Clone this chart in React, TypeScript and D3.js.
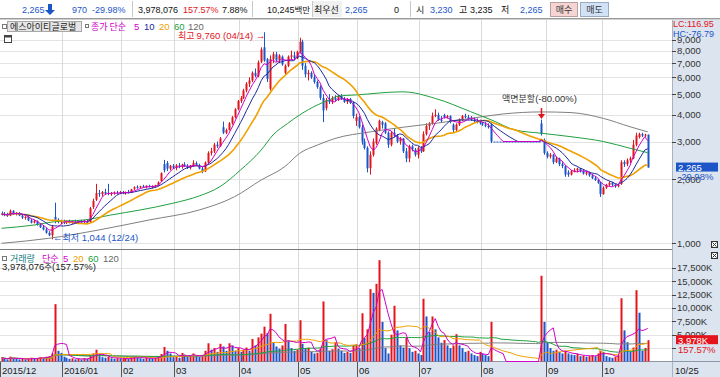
import React from 'react';
import * as d3 from 'd3';

// ---------- categories ----------
const monthLabels = ['2015/12', '2016/01', '02', '03', '04', '05', '06', '07', '08', '09', '10'];
const monthDays = [21, 20, 18, 22, 20, 20, 21, 21, 22, 19, 16];
const lastDateLabel = '10/25';

// ---------- daily OHLC (split-adjusted, KRW) ----------
const opens = [
  1380, 1370, 1360, 1350, 1420, 1380, 1390, 1350, 1320, 1330, 1280, 1250, 1270, 1220, 1190, 1160, 1120, 1090, 1330, 1290, 1260,
  1270, 1250, 1270, 1250, 1260, 1250, 1270, 1260, 1270, 1260, 1480, 1600, 1720, 1700, 1740, 1720, 1700, 1720, 1730, 1720,
  1740, 1720, 1740, 1730, 1800, 1840, 1830, 1850, 1830, 1860, 1840, 1850, 1880, 1960, 2350, 2380, 2240, 2310,
  2260, 2320, 2280, 2340, 2300, 2260, 2310, 2380, 2320, 2240, 2180, 2390, 2650, 2700, 2900, 2850, 3500, 3300, 3400, 3650, 3900, 4250,
  4650, 4800, 5200, 5600, 5800, 6300, 6100, 7100, 8300, 7300, 5300, 7300, 7700, 7200, 7500, 6300, 6800, 7500, 7600, 7400,
  7900, 8800, 6800, 6200, 6300, 6000, 5700, 5400, 4800, 4300, 4700, 4600, 4800, 4700, 4900, 4750, 4600, 4750, 4550, 3750,
  3900, 3500, 3000, 2800, 2250, 2600, 2950, 3400, 3700, 3650, 3300, 2900, 3300, 3200, 3000, 3100, 2700, 2500, 2850, 2750, 2600,
  2800, 2700, 3250, 3550, 3650, 3950, 4000, 3800, 4000, 3900, 3950, 3600, 3400, 3600, 3800, 3950, 3900, 3850, 3800, 3750, 3700,
  3650, 3600, 3550, 3600, 3000, 3000, 3000, 3000, 3000, 3000, 3000, 3000, 3000, 3000, 3000, 3000, 3000, 3000, 3000, 3000, 3650, 3050,
  2650, 2550, 2600, 2400, 2500, 2350, 2300, 2150, 2100, 2180, 2200, 2240, 2180, 2120, 2150, 2080, 2020, 1980, 1920,
  1700, 1820, 1880, 1920, 1880, 1850, 1900, 2400, 2350, 2450, 2500, 2900, 3150, 3250, 3200, 3230,
];
const highs = [
  1410, 1400, 1390, 1440, 1430, 1400, 1400, 1370, 1340, 1340, 1300, 1290, 1280, 1240, 1210, 1180, 1140, 1220, 1550, 1310, 1290,
  1290, 1280, 1290, 1280, 1290, 1280, 1290, 1290, 1290, 1480, 1620, 1900, 1780, 1760, 1800, 1900, 1740, 1750, 1760, 1760,
  1760, 1750, 1780, 1800, 1850, 1870, 1860, 1880, 1870, 1880, 1870, 1880, 1950, 2150, 2460, 2430, 2330, 2350,
  2350, 2380, 2360, 2400, 2350, 2330, 2450, 2420, 2360, 2280, 2420, 2700, 2800, 2950, 3000, 3150, 3720, 3450, 3700, 3950, 4300, 4700,
  4900, 5300, 5700, 6000, 6400, 6600, 7200, 8300, 9760, 7400, 7600, 7900, 7900, 7700, 7600, 6900, 7600, 8000, 7900, 8000,
  9200, 9000, 7000, 6500, 6400, 6200, 5800, 5500, 5000, 4800, 5000, 4900, 4950, 4950, 5000, 4850, 4800, 4800, 4600, 4050,
  3950, 3600, 3100, 2850, 2700, 3100, 3500, 3800, 3750, 3700, 3350, 3350, 3450, 3250, 3150, 3120, 2800, 2900, 2900, 2800, 2850,
  2850, 3350, 3650, 3700, 4100, 4250, 4100, 3950, 4050, 4000, 3980, 3650, 3650, 3850, 4000, 4050, 4000, 3950, 3900, 3850, 3800,
  3700, 3700, 3650, 3650, 3000, 3000, 3000, 3000, 3000, 3000, 3000, 3000, 3000, 3000, 3000, 3000, 3000, 3000, 3000, 3000, 3800, 3100,
  2700, 2650, 2620, 2550, 2520, 2400, 2320, 2200, 2200, 2250, 2260, 2250, 2200, 2180, 2160, 2100, 2050, 2000, 1940,
  1850, 1900, 1950, 1940, 1900, 1900, 2450, 2450, 2500, 2550, 3050, 3300, 3300, 3300, 3260, 3235,
];
const lows = [
  1350, 1340, 1330, 1340, 1360, 1350, 1340, 1300, 1290, 1270, 1240, 1240, 1210, 1180, 1150, 1110, 1080, 1044, 1240, 1240, 1230,
  1230, 1230, 1240, 1230, 1240, 1230, 1240, 1240, 1240, 1250, 1450, 1580, 1650, 1660, 1690, 1680, 1670, 1690, 1700, 1700,
  1700, 1690, 1710, 1720, 1780, 1800, 1800, 1820, 1810, 1830, 1810, 1830, 1860, 1940, 2150, 2180, 2200, 2230,
  2200, 2250, 2240, 2280, 2230, 2220, 2280, 2300, 2220, 2130, 2160, 2370, 2580, 2650, 2800, 2830, 3250, 3250, 3380, 3600, 3850, 4200,
  4550, 4750, 5100, 5400, 5700, 6000, 6000, 7000, 7100, 5700, 5200, 7000, 7100, 7000, 6800, 6200, 6700, 7300, 7200, 7300,
  7800, 6500, 6000, 5800, 5900, 5600, 5300, 4700, 3700, 4200, 4500, 4500, 4650, 4650, 4700, 4550, 4500, 4500, 3850, 3550,
  3450, 2900, 2750, 2150, 2100, 2550, 2900, 3350, 3450, 3250, 2800, 2850, 3150, 2950, 2900, 2650, 2400, 2400, 2700, 2550, 2500,
  2650, 2680, 3200, 3400, 3600, 3900, 3750, 3700, 3850, 3850, 3650, 3300, 3350, 3550, 3750, 3850, 3800, 3750, 3700, 3650, 3600,
  3550, 3500, 3450, 2950, 3000, 3000, 3000, 3000, 3000, 3000, 3000, 3000, 3000, 3000, 3000, 3000, 3000, 3000, 3000, 3000, 3200, 2600,
  2500, 2500, 2350, 2380, 2300, 2250, 2050, 2050, 2080, 2150, 2150, 2150, 2100, 2080, 2050, 2000, 1960, 1900, 1650,
  1690, 1800, 1850, 1850, 1820, 1830, 1880, 2280, 2300, 2380, 2480, 2850, 3100, 3150, 3150, 2265,
];
const closes = [
  1370, 1360, 1350, 1420, 1380, 1390, 1350, 1320, 1330, 1280, 1250, 1270, 1220, 1190, 1160, 1120, 1090, 1200, 1290, 1260, 1270,
  1250, 1270, 1250, 1270, 1250, 1270, 1260, 1280, 1250, 1460, 1580, 1720, 1700, 1740, 1710, 1700, 1720, 1730, 1720, 1740,
  1720, 1740, 1730, 1790, 1830, 1820, 1850, 1830, 1860, 1840, 1850, 1870, 1930, 2130, 2200, 2240, 2310, 2260,
  2320, 2280, 2340, 2300, 2260, 2310, 2380, 2320, 2240, 2180, 2390, 2650, 2700, 2900, 2850, 3100, 3300, 3400, 3650, 3900, 4250, 4650,
  4800, 5200, 5600, 5800, 6300, 6100, 7050, 8100, 7200, 5900, 7300, 7700, 7200, 7600, 6900, 6800, 7500, 7600, 7400, 7900,
  8800, 6800, 6200, 6300, 6000, 5700, 5400, 4800, 4200, 4700, 4600, 4800, 4700, 4900, 4750, 4600, 4750, 4550, 3950, 3900,
  3500, 3000, 2800, 2250, 2600, 3000, 3450, 3750, 3600, 3300, 2900, 3300, 3200, 3000, 3100, 2700, 2500, 2850, 2750, 2600, 2800,
  2700, 3250, 3550, 3650, 3950, 4000, 3800, 3750, 3900, 3950, 3700, 3400, 3600, 3800, 3950, 3900, 3850, 3800, 3750, 3700, 3650,
  3600, 3550, 3500, 3000, 3000, 3000, 3000, 3000, 3000, 3000, 3000, 3000, 3000, 3000, 3000, 3000, 3000, 3000, 3000, 3000, 3250, 2650,
  2550, 2600, 2400, 2500, 2350, 2300, 2100, 2100, 2180, 2200, 2240, 2180, 2120, 2150, 2080, 2020, 1980, 1920, 1700,
  1820, 1880, 1920, 1880, 1850, 1880, 2400, 2350, 2450, 2500, 2900, 3200, 3250, 3200, 3235, 2265,
];
// volume in thousand shares
const volumes = [
  700, 500, 400, 900, 600, 500, 400, 500, 400, 600, 700, 500, 600, 800, 700, 900, 1000, 1500, 10700, 2000, 1600,
  900, 700, 500, 600, 400, 500, 400, 600, 500, 1200, 1500, 2200, 1000, 800, 700, 900, 600, 500, 600, 500,
  500, 600, 500, 800, 900, 700, 600, 500, 700, 600, 500, 700, 1000, 1400, 2700, 2000, 1500, 800,
  900, 700, 1600, 1300, 900, 1000, 1500, 1100, 900, 1000, 2000, 3400, 2200, 2500, 1800, 3300, 2800, 2000, 3400, 3000, 2000, 2500,
  1800, 2200, 2600, 2000, 4200, 3000, 4500, 5200, 6500, 5300, 8900, 3600, 2800, 2400, 3000, 7000, 4000, 2500, 2000, 2200,
  7700, 3300, 2500, 2600, 1800, 1500, 1600, 2400, 11200, 4000, 2000, 2300, 3600, 2400, 2000, 1600, 1800, 1600, 3000, 3200,
  2500, 9000, 4400, 6000, 13500, 12800, 14500, 18900, 7400, 2500, 1500, 5000, 10400, 5800, 3000, 2600, 4400, 2500, 1800, 2000, 1500,
  1200, 11700, 8400, 5500, 8400, 6000, 4500, 3500, 4000, 3000, 2500, 3000, 5100, 3000, 2500, 1800, 2000, 1500, 1200, 1000, 1800,
  1500, 1200, 1000, 7400, 0, 0, 0, 0, 0, 0, 0, 0, 0, 0, 0, 0, 0, 0, 0, 0, 16000, 7400,
  3500, 2500, 2000, 2200, 1800, 1500, 2000, 1500, 1300, 1200, 1400, 1000, 1100, 900, 1000, 1200, 1000, 1500, 2000,
  1800, 1000, 800, 700, 900, 1200, 11800, 5800, 3600, 1800, 2600, 13300, 9100, 2000, 2525, 3978,
];

// MA60 / MA120 (index, value)
const ma60Idx = [0, 11, 18, 28, 37, 47, 58, 67, 74, 81, 88, 92, 97, 101, 107, 111, 114, 120, 136, 147, 159, 166, 174, 183, 193, 204, 213, 219];
const ma60Val = [1176, 1218, 1263, 1286, 1357, 1433, 1540, 1667, 1842, 2206, 2737, 3220, 3650, 3995, 4450, 4700, 4900, 4960, 5130, 4780, 4140, 3790, 3400, 3280, 3160, 3000, 2790, 2660];
const ma120Idx = [0, 16, 33, 50, 67, 79, 88, 96, 101, 107, 113, 125, 136, 147, 159, 170, 183, 193, 204, 213, 219];
const ma120Val = [1000, 1055, 1155, 1286, 1433, 1654, 1980, 2288, 2640, 2886, 3100, 3330, 3500, 3650, 3850, 4040, 4130, 4100, 3850, 3520, 3330];

const priceTicks = [1000, 2000, 3000, 4000, 5000, 6000, 7000, 8000, 9000];
const volGrid = [2500, 5000, 7500, 10000, 12500, 15000, 17500];
const volTickLabels = [5000, 7500, 10000, 12500, 15000, 17500];

const RED = '#e3141c';
const BLUE = '#1c55c8';
const C_MA5 = '#d000c8';
const C_MA10 = '#1c2a9c';
const C_MA20 = '#f0a000';
const C_MA60 = '#20a040';
const C_MA120 = '#808080';
const AXIS_BG = '#dbe4ef';
const NUM = "'Liberation Sans', Arial, sans-serif";
const KR = "'Noto Sans CJK KR', 'Noto Sans', sans-serif";
const FS = 9.5;
const FH = 9;

function sma(arr: number[], n: number) {
  return arr.map((_, i) => {
    const s = Math.max(0, i - n + 1);
    let t = 0;
    for (let k = s; k <= i; k++) t += arr[k];
    return t / (i - s + 1);
  });
}

export default function App() {
  const W = 720, H = 377;
  const N = closes.length;
  const plotR = 672;
  const x = d3.scaleLinear().domain([0, N - 1]).range([1.54, 647.7]);
  const yP = d3.scaleLog().domain([1000, 10000]).range([243.3, 30]);
  const yV = d3.scaleLinear().domain([0, 17500]).range([361.5, 267.7]);

  const starts: number[] = [];
  monthDays.reduce((acc, d) => { starts.push(acc); return acc + d; }, 0);
  const bx = (i: number) => Math.round(x(i - 0.5)) + 0.5;

  const ma5 = sma(closes, 5), ma10 = sma(closes, 10), ma20 = sma(closes, 20);
  const lineP = d3.line<number>().x((_, i) => x(i)).y(v => yP(v));
  const lineS = d3.line<[number, number]>().x(d => x(d[0])).y(d => yP(d[1])).curve(d3.curveMonotoneX);
  const ma60pts = ma60Idx.map((d, i) => [d, ma60Val[i]] as [number, number]);
  const ma120pts = ma120Idx.map((d, i) => [d, ma120Val[i]] as [number, number]);

  const v5 = sma(volumes, 5), v20 = sma(volumes, 20), v60 = sma(volumes, 60), v120 = sma(volumes, 120);
  const lineV = d3.line<number>().x((_, i) => x(i)).y(v => yV(v));

  const fmt = d3.format(',');
  const last = N - 1;

  return (
    <div style={{ position: 'absolute', left: 0, top: 0, width: W, height: H }}>
      <svg width={W} height={H} style={{ display: 'block' }}>
        <defs>
          <clipPath id="cp"><rect x={0} y={20} width={plotR} height={229} /></clipPath>
          <clipPath id="cv"><rect x={0} y={250} width={plotR} height={112} /></clipPath>
        </defs>
        <rect x={0} y={0} width={W} height={H} fill="#ffffff" />

        {/* header bar */}
        <rect x={0} y={0} width={W} height={18} fill="#ffffff" />
        <line x1={0} x2={W} y1={18.5} y2={18.5} stroke="#9a9a9a" />
        <rect x={0} y={19} width={W} height={1} fill="#d0d0d0" />
        {[132, 252, 312, 410].map(v => <line key={v} x1={v + 0.5} x2={v + 0.5} y1={1} y2={17} stroke="#c8c8c8" />)}
        <rect x={313} y={1} width={29} height={16} fill="#f0f0f0" />
        <g fontFamily={NUM} fontSize={FH}>
          <text x={22} y={12.5} fill={BLUE}>2,265</text>
          <path d="M48,4 h4 v6 h3 l-5,5 l-5,-5 h3 z" fill={BLUE} />
          <text x={72} y={12.5} fill={BLUE}>970</text>
          <text x={92} y={12.5} fill={BLUE}>-29.98%</text>
          <text x={138} y={12.5} fill="#111">3,978,076</text>
          <text x={183} y={12.5} fill={RED}>157.57%</text>
          <text x={222} y={12.5} fill="#111">7.88%</text>
          <text x={267} y={12.5} fill="#111">10,245<tspan fontFamily={KR} fontSize={8.5}>백만</tspan></text>
          <text x={314} y={12.5} fill="#111" fontFamily={KR} fontSize={9}>최우선</text>
          <text x={345} y={12.5} fill={BLUE}>2,265</text>
          <text x={394} y={12.5} fill="#111">0</text>
          <text x={416} y={12.5} fill="#111" fontFamily={KR} fontSize={9}>시</text>
          <text x={430} y={12.5} fill={BLUE}>3,230</text>
          <text x={459} y={12.5} fill="#111" fontFamily={KR} fontSize={9}>고</text>
          <text x={470} y={12.5} fill="#111">3,235</text>
          <text x={501} y={12.5} fill="#111" fontFamily={KR} fontSize={9}>저</text>
          <text x={520} y={12.5} fill={BLUE}>2,265</text>
        </g>
        <rect x={550.5} y={2.5} width={27} height={14} fill="#f7d4d4" stroke="#b9a0a0" />
        <text x={564} y={13} textAnchor="middle" fontFamily={KR} fontSize={9} fill="#333">매수</text>
        <rect x={580.5} y={2.5} width={28} height={14} fill="#d2e2f6" stroke="#9aaac0" />
        <text x={594.5} y={13} textAnchor="middle" fontFamily={KR} fontSize={9} fill="#333">매도</text>

        {/* axis backgrounds */}
        <rect x={plotR} y={20} width={W - plotR} height={342} fill={AXIS_BG} />
        <rect x={0} y={362} width={W} height={15} fill={AXIS_BG} />
        <line x1={plotR + 0.5} x2={plotR + 0.5} y1={20} y2={H} stroke="#a8b4c4" />
        <line x1={0} x2={W} y1={361.5} y2={361.5} stroke="#8c98a8" />

        {/* grids */}
        {priceTicks.map(t => (
          <line key={t} x1={0} x2={plotR} y1={Math.round(yP(t)) + 0.5} y2={Math.round(yP(t)) + 0.5} stroke="#e3e3e3" />
        ))}
        {volGrid.map(t => (
          <line key={t} x1={0} x2={plotR} y1={Math.round(yV(t)) + 0.5} y2={Math.round(yV(t)) + 0.5} stroke="#e3e3e3" />
        ))}
        {starts.slice(1).map(s => (
          <line key={s} x1={bx(s)} x2={bx(s)} y1={20} y2={361} stroke="#d9d9d9" />
        ))}
        <line x1={0} x2={plotR} y1={249.5} y2={249.5} stroke="#7a7a7a" />

        {/* candles */}
        <g clipPath="url(#cp)">
          {closes.map((c, i) => {
            const o = opens[i];
            const up = c > o || (c === o && i > 0 && c > closes[i - 1]);
            const col = up ? RED : BLUE;
            const cx = Math.round(x(i));
            const yt = yP(Math.max(o, c)), yb = yP(Math.min(o, c));
            return (
              <g key={i}>
                <line x1={cx + 0.5} x2={cx + 0.5} y1={yP(highs[i])} y2={yP(lows[i])} stroke={col} />
                <rect x={cx - 0.5} y={yt} width={2} height={Math.max(1, yb - yt)} fill={col} />
              </g>
            );
          })}
          <path d={lineS(ma120pts) || ''} fill="none" stroke={C_MA120} strokeWidth={1} />
          <path d={lineS(ma60pts) || ''} fill="none" stroke={C_MA60} strokeWidth={1} />
          <path d={lineP(ma20) || ''} fill="none" stroke={C_MA20} strokeWidth={1.6} />
          <path d={lineP(ma10) || ''} fill="none" stroke={C_MA10} strokeWidth={1} />
          <path d={lineP(ma5) || ''} fill="none" stroke={C_MA5} strokeWidth={1} />
        </g>

        {/* volume */}
        <g clipPath="url(#cv)">
          {volumes.map((v, i) => {
            if (v <= 0) return null;
            const up = i === 0 ? true : v >= volumes[i - 1];
            const cx = Math.round(x(i));
            return <rect key={i} x={cx - 0.5} y={yV(v)} width={2} height={yV(0) - yV(v)} fill={up ? RED : BLUE} />;
          })}
          <path d={lineV(v120) || ''} fill="none" stroke={C_MA120} strokeWidth={1} />
          <path d={lineV(v60) || ''} fill="none" stroke={C_MA60} strokeWidth={1} />
          <path d={lineV(v20) || ''} fill="none" stroke={C_MA20} strokeWidth={1} />
          <path d={lineV(v5) || ''} fill="none" stroke={C_MA5} strokeWidth={1} />
        </g>

        {/* price panel legend */}
        <rect x={2.5} y={24.5} width={4} height={4} fill="none" stroke="#777" />
        <rect x={7.5} y={21.5} width={74} height={10} fill="#e6e6e6" stroke="#a8a8a8" />
        <text x={10} y={30} fontFamily={KR} fontSize={9} fill="#222">에스아이티글로벌</text>
        <rect x={85.5} y={24.5} width={3} height={3} fill="none" stroke="#777" />
        <text x={91} y={30} fontFamily={KR} fontSize={9} fill={C_MA5}>종가 단순</text>
        <g fontFamily={NUM} fontSize={FS}>
          <text x={134} y={30} fill={C_MA5}>5</text>
          <text x={144} y={30} fill={C_MA10}>10</text>
          <text x={159} y={30} fill={C_MA20}>20</text>
          <text x={174} y={30} fill={C_MA60}>60</text>
          <text x={188} y={30} fill="#666">120</text>
        </g>
        <rect x={4.5} y={35.5} width={7} height={7} fill="#fff" stroke="#444" />
        <rect x={4.5} y={35.5} width={7} height={2} fill="#444" />

        {/* annotations */}
        <text x={178} y={39} fontFamily={KR} fontSize={9} fill={RED}>최고 <tspan fontFamily={NUM} fontSize={FS}>9,760 (04/14) →</tspan></text>
        <text x={53} y={241} fontFamily={NUM} fontSize={FS} fill={BLUE}>←<tspan fontFamily={KR} fontSize={9}>최저</tspan> 1,044 (12/24)</text>
        <text x={502} y={102} fontFamily={KR} fontSize={9} fill="#333">액면분할<tspan fontFamily={NUM} fontSize={FS}>(-80.00%)</tspan></text>
        <line x1={x(183)} x2={x(183)} y1={108} y2={115} stroke={RED} strokeWidth={1.5} />
        <path d={`M${x(183) - 3.5},114 h7 l-3.5,5 z`} fill={RED} />

        {/* volume legend */}
        <rect x={2.5} y={256.5} width={4} height={4} fill="none" stroke="#777" />
        <text x={10} y={262} fontFamily={KR} fontSize={9} fill="#138080">거래량</text>
        <text x={42} y={262} fontFamily={KR} fontSize={9} fill={C_MA5}>단순</text>
        <g fontFamily={NUM} fontSize={FS}>
          <text x={63} y={262} fill={C_MA5}>5</text>
          <text x={73} y={262} fill={C_MA20}>20</text>
          <text x={88} y={262} fill={C_MA60}>60</text>
          <text x={103} y={262} fill="#666">120</text>
        </g>
        <text x={2} y={270} fontFamily={NUM} fontSize={FS} fill="#222">3,978,076<tspan fontFamily={KR} fontSize={8.5}>주</tspan>(157.57%)</text>

        {/* close icons */}
        <rect x={711.5} y={241.5} width={6} height={6} fill="#fff" stroke="#333" />
        <path d="M712.5,242.5 L716.5,246.5 M716.5,242.5 L712.5,246.5" stroke="#333" />
        <rect x={711.5} y={252.5} width={6} height={6} fill="#fff" stroke="#333" />
        <path d="M712.5,253.5 L716.5,257.5 M716.5,253.5 L712.5,257.5" stroke="#333" />

        {/* price axis */}
        {priceTicks.map(t => (
          <g key={t}>
            <line x1={plotR} x2={plotR + 4} y1={Math.round(yP(t)) + 0.5} y2={Math.round(yP(t)) + 0.5} stroke="#444" />
            <text x={plotR + 5} y={yP(t) + 3.5} fontFamily={NUM} fontSize={FS} fill="#333">{fmt(t)}</text>
          </g>
        ))}
        <text x={673} y={27} fontFamily={NUM} fontSize={9} fill={RED}>LC:116.95</text>
        <text x={673} y={37} fontFamily={NUM} fontSize={9} fill={BLUE}>HC:-76.79</text>
        <rect x={676} y={yP(closes[last]) - 5} width={42} height={9} fill={BLUE} />
        <text x={678} y={yP(closes[last]) + 3.5} fontFamily={NUM} fontSize={FS} fill="#fff">{fmt(closes[last])}</text>
        <text x={678} y={yP(closes[last]) + 12.5} fontFamily={NUM} fontSize={FS} fill={BLUE}>-29.98%</text>

        {/* volume axis */}
        {volTickLabels.map(t => (
          <g key={t}>
            <line x1={plotR} x2={plotR + 4} y1={Math.round(yV(t)) + 0.5} y2={Math.round(yV(t)) + 0.5} stroke="#444" />
            <text x={plotR + 5} y={yV(t) + 3.5} fontFamily={NUM} fontSize={FS} fill="#333">{fmt(t)}K</text>
          </g>
        ))}
        <line x1={plotR} x2={plotR + 4} y1={Math.round(yV(2500)) + 0.5} y2={Math.round(yV(2500)) + 0.5} stroke="#444" />
        <rect x={676} y={yV(volumes[last]) - 5} width={42} height={9} fill={RED} />
        <text x={678} y={yV(volumes[last]) + 3.5} fontFamily={NUM} fontSize={FS} fill="#fff">{fmt(volumes[last])}K</text>
        <text x={678} y={yV(volumes[last]) + 12.5} fontFamily={NUM} fontSize={FS} fill={RED}>157.57%</text>

        {/* x axis */}
        {starts.map((s, k) => {
          const xx = k === 0 ? 0.5 : bx(s);
          return (
            <g key={s}>
              <line x1={xx} x2={xx} y1={362} y2={H} stroke="#555" />
              <text x={xx + 1.5} y={373.5} fontFamily={NUM} fontSize={FS} fill="#222">{monthLabels[k]}</text>
            </g>
          );
        })}
        <text x={675} y={373.5} fontFamily={NUM} fontSize={FS} fill="#222">{lastDateLabel}</text>
      </svg>
    </div>
  );
}
